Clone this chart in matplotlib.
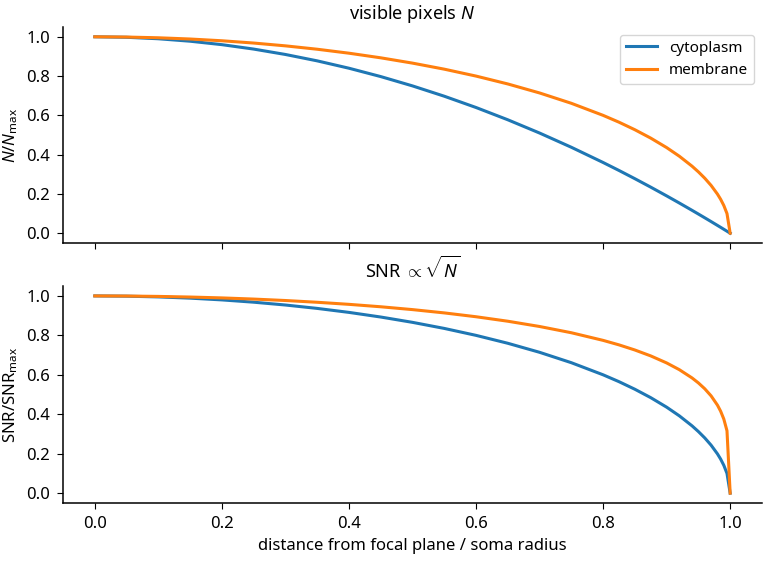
import matplotlib
matplotlib.use("Agg")
import matplotlib.pyplot as plt

plt.rcParams['font.family'] = ['Noto Sans', 'DejaVu Sans']
plt.rcParams['font.size'] = 12
plt.rcParams['mathtext.fontset'] = 'custom'
plt.rcParams['mathtext.rm'] = 'Noto Sans'
plt.rcParams['mathtext.it'] = 'Noto Sans:italic'
plt.rcParams['mathtext.bf'] = 'Noto Sans:bold'
plt.rcParams['xtick.major.size'] = 4.5
plt.rcParams['ytick.major.size'] = 4.5
plt.rcParams['xtick.major.pad'] = 5
plt.rcParams['ytick.major.pad'] = 5
plt.rcParams['axes.linewidth'] = 1.1

# distance from focal plane / soma radius
dist = [0, .05, .1, .15, .2, .25, .3, .35, .4, .45, .5, .55, .6, .65, .7,
        .75, .8, .825, .85, .875, .9, .92, .94, .95, .96, .97, .98, .985,
        .99, .995, 1.0]
# visible pixels N / N_max
n_cyto = [1, .9975, .99, .9775, .96, .9375, .91, .8775, .84, .7975, .75, .6975,
          .64, .5775, .51, .4375, .36, .3194, .2775, .2344, .19, .1536, .1164,
          .0975, .0784, .0591, .0396, .0298, .0199, .01, 0]
n_memb = [1, .9987, .995, .9887, .9798, .9682, .9539, .9367, .9165, .893, .866,
          .8352, .8, .7599, .7141, .6614, .6, .5652, .5268, .4841, .4359, .3919,
          .3412, .3122, .28, .2431, .199, .1726, .1411, .0999, 0]
# SNR / SNR_max
snr_cyto = n_memb
snr_memb = [1, .9994, .9975, .9943, .9899, .984, .9767, .9678, .9573, .945,
            .9306, .9139, .8944, .8717, .845, .8133, .7746, .7518, .7258, .6958,
            .6602, .626, .5841, .5588, .5292, .4931, .4461, .4154, .3756, .3161, 0]

fig = plt.figure(figsize=(7.63, 5.62), dpi=100)
ax1 = fig.add_axes([0.0826, 0.5676, 0.916, 0.3844])
ax2 = fig.add_axes([0.0826, 0.105, 0.916, 0.386], sharex=ax1)

ax1.plot(dist, n_cyto, color='tab:blue', lw=2.2, label='cytoplasm')
ax1.plot(dist, n_memb, color='tab:orange', lw=2.2, label='membrane')
ax1.set_title('visible pixels $N$', fontsize=13)
ax1.set_ylabel('$N/N_\\mathrm{max}$')
ax1.legend(loc='upper right', fontsize=11)
ax1.tick_params(labelbottom=False)

ax2.plot(dist, snr_cyto, color='tab:blue', lw=2.2)
ax2.plot(dist, snr_memb, color='tab:orange', lw=2.2)
ax2.set_title('SNR $\\propto\\sqrt{N}$', fontsize=13)
ax2.set_ylabel('SNR/SNR$_\\mathrm{max}$')
ax2.set_xlabel('distance from focal plane / soma radius')

for ax in (ax1, ax2):
    ax.spines['top'].set_visible(False)
    ax.spines['right'].set_visible(False)
    ax.set_yticks([0, 0.2, 0.4, 0.6, 0.8, 1.0])
    ax.set_xticks([0, 0.2, 0.4, 0.6, 0.8, 1.0])

fig.savefig('out.png', dpi=100)
